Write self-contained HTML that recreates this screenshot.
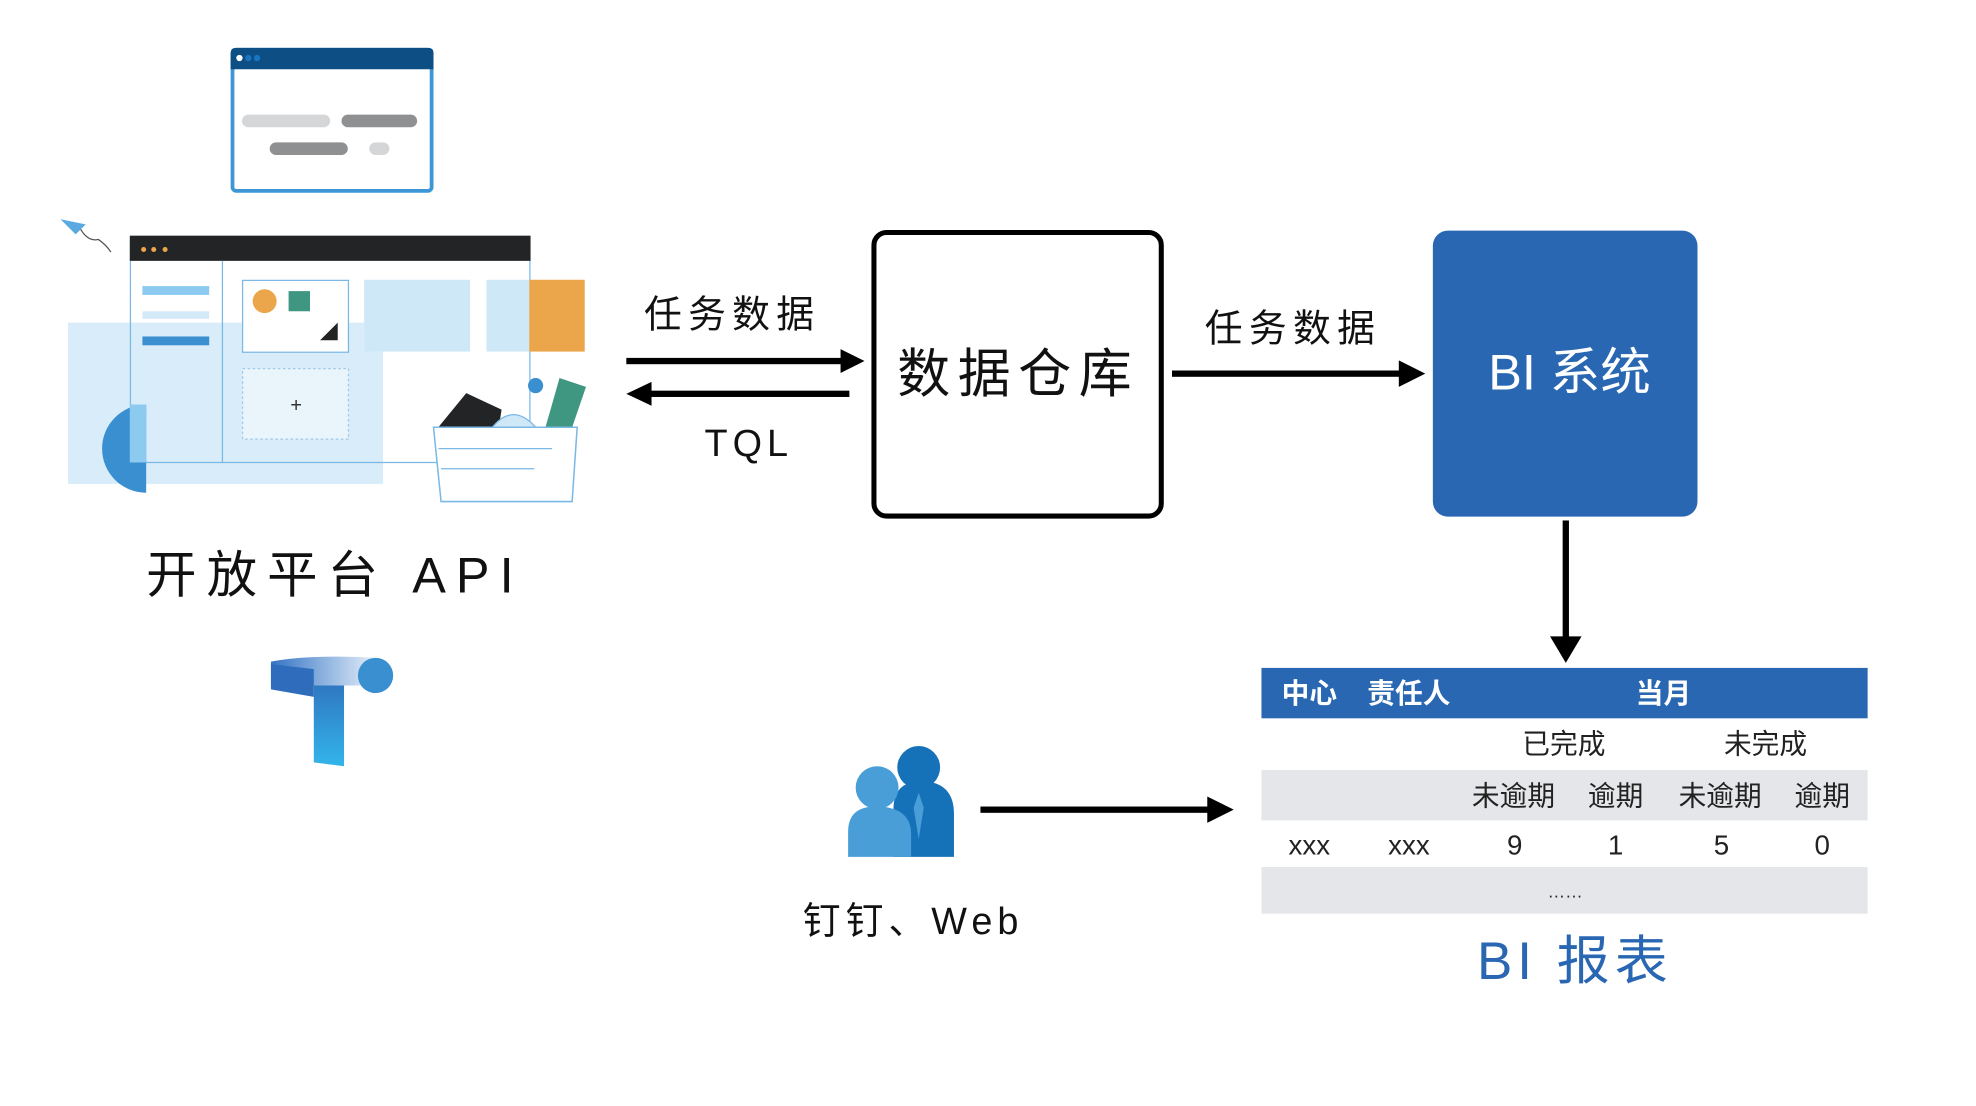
<!DOCTYPE html>
<html><head><meta charset="utf-8"><style>
html,body{margin:0;padding:0;background:#fff;overflow:hidden}
body{width:1976px;height:1106px}
#w{position:absolute;left:0;top:0;width:1568px;height:878px;transform:scale(1.2602);transform-origin:0 0;font-family:"Liberation Sans","Noto Sans CJK SC",sans-serif}
.a{position:absolute}
.t{position:absolute;white-space:nowrap;line-height:1;color:#111}
.tb{position:absolute;white-space:nowrap;line-height:1;font-size:22px;color:#222;transform:translateX(-50%)}
</style></head><body><div id="w">
<svg class="a" style="left:0;top:0" width="1551" height="868" viewBox="0 0 1551 868">
<rect x="184.5" y="39.5" width="158" height="112" rx="3" fill="#fff" stroke="#3d97d6" stroke-width="3"/>
<path d="M183 42 q0-4 4-4 h153 q4 0 4 4 v13 h-161z" fill="#0d4f85"/>
<circle cx="190" cy="46" r="2.5" fill="#fff"/><circle cx="197" cy="46" r="2.5" fill="#1a75c0"/><circle cx="204" cy="46" r="2.5" fill="#1a75c0"/>
<rect x="192" y="91" width="70" height="10" rx="5" fill="#d5d6d8"/>
<rect x="271" y="91" width="60" height="10" rx="5" fill="#8f9092"/>
<rect x="214" y="113" width="62" height="10" rx="5" fill="#8f9092"/>
<rect x="293" y="113" width="16" height="10" rx="5" fill="#d5d6d8"/>
<path d="M48 174 L68 178 L60 186 Z" fill="#5aa9e0"/><path d="M64 182 q6 10 14 8 q6 4 10 10" fill="none" stroke="#555" stroke-width="1"/>
<rect x="54" y="256" width="250" height="128" fill="#d9ecf9"/>
<rect x="103.5" y="190" width="317" height="177" fill="none" stroke="#7ab8e6" stroke-width="1"/>
<rect x="103" y="187" width="318" height="20" fill="#232426"/>
<circle cx="114" cy="198" r="2" fill="#eba64b"/><circle cx="122" cy="198" r="2" fill="#eba64b"/><circle cx="131" cy="198" r="2" fill="#eba64b"/>
<line x1="176.5" y1="207" x2="176.5" y2="367" stroke="#7ab8e6"/>
<path d="M116 321 A35 35 0 0 0 116 391 Z" fill="#3a8fd0"/>
<rect x="103" y="321" width="13" height="46" fill="#8ccaf0"/>
<rect x="113" y="227" width="53" height="7" fill="#8ccaf0"/>
<rect x="113" y="247" width="53" height="6" fill="#d4e9f7"/>
<rect x="113" y="267" width="53" height="7" fill="#3a8fd0"/>
<rect x="192.5" y="222.5" width="84" height="57" fill="#fff" stroke="#7ab8e6"/>
<circle cx="210" cy="239" r="9.5" fill="#eba64b"/>
<rect x="229" y="231" width="17" height="16" fill="#3f9782"/>
<path d="M254 270 L268 256 L268 270Z" fill="#222"/>
<rect x="192.5" y="292.5" width="84" height="56" fill="#eaf4fb" stroke="#9fcaea" stroke-dasharray="2 2"/>
<text x="235" y="327" font-size="16" text-anchor="middle" fill="#333">+</text>
<rect x="289" y="222" width="84" height="57" fill="#cfe8f7"/>
<rect x="386" y="222" width="34" height="57" fill="#cfe8f7"/>
<rect x="420" y="222" width="44" height="57" fill="#eba64b"/>
<path d="M347 340 L370 312 L398 325 L395 345Z" fill="#232426"/>
<path d="M432 342 L444 300 L465 307 L453 342Z" fill="#3f9782"/>
<path d="M390 340 q17 -22 36 0Z" fill="#cfe8f7" stroke="#7ab8e6"/>
<circle cx="425" cy="306" r="6" fill="#3a8fd0"/>
<path d="M344 339 H458 L454 398 H350Z" fill="#fff" stroke="#7ab8e6" stroke-width="1.2"/>
<line x1="348" y1="356" x2="438" y2="356" stroke="#7ab8e6"/>
<line x1="350" y1="372" x2="424" y2="372" stroke="#7ab8e6"/>
<defs><linearGradient id="g1" x1="0" y1="0" x2="1" y2="0"><stop offset="0" stop-color="#3474c4"/><stop offset="1" stop-color="#e8f1fa"/></linearGradient>
<linearGradient id="g2" x1="0" y1="0" x2="0" y2="1"><stop offset="0" stop-color="#2f78c2"/><stop offset="1" stop-color="#33b5ea"/></linearGradient></defs>
<path d="M215 525 q30 -6 85 -3 v22 h-85z" fill="url(#g1)"/>
<path d="M249 544 h24 v64 l-24 -3z" fill="url(#g2)"/>
<path d="M215 527 v20 l34 6 v-22z" fill="#2f6cbc"/>
<circle cx="298" cy="536" r="14" fill="#3a8fd0"/>
<rect x="497" y="284" width="172" height="5" fill="#000"/><path d="M667 277 L686 286.5 L667 296Z" fill="#000"/>
<rect x="515" y="310" width="159" height="5" fill="#000"/><path d="M517 303 L497 312.5 L517 322Z" fill="#000"/>
<rect x="693.5" y="184.5" width="228" height="225" rx="10" fill="#fff" stroke="#000" stroke-width="4"/>
<rect x="930" y="294" width="182" height="5" fill="#000"/><path d="M1110 286 L1131 296.5 L1110 307Z" fill="#000"/>
<rect x="1137" y="183" width="210" height="227" rx="12" fill="#2a67b3"/>
<rect x="1240" y="413" width="5" height="94" fill="#000"/><path d="M1230 505 L1242.5 526 L1255 505Z" fill="#000"/>
<rect x="778" y="640" width="182" height="5" fill="#000"/><path d="M958 632 L979 642.5 L958 653Z" fill="#000"/>
<circle cx="729" cy="609" r="17" fill="#1672b8"/>
<path d="M709 680 v-38 q0-22 22-22 q26 0 26 26 v34z" fill="#1672b8"/>
<path d="M729 629 l4 12 l-4 25 l-4 -25z" fill="#4a9ed8"/>
<circle cx="696" cy="625" r="17" fill="#4a9ed8"/>
<path d="M673 680 v-20 q0-20 22-20 q28 0 28 22 v18z" fill="#4a9ed8"/>
<rect x="1001" y="530" width="481" height="40" fill="#2a67b3"/>
<rect x="1001" y="611" width="481" height="40" fill="#e4e6e9"/>
<rect x="1001" y="688" width="481" height="37" fill="#e4e6e9"/>
</svg>
<div class="t" style="left:116px;top:437px;font-size:40px;letter-spacing:8px">开放平台 API</div>
<div class="t" style="left:511px;top:236px;font-size:30px;letter-spacing:5px">任务数据</div>
<div class="t" style="left:559px;top:338px;font-size:30px;letter-spacing:4px">TQL</div>
<div class="t" style="left:712px;top:276px;font-size:42px;letter-spacing:6px">数据仓库</div>
<div class="t" style="left:956px;top:247px;font-size:30px;letter-spacing:5px">任务数据</div>
<div class="t" style="left:1181px;top:276px;font-size:40px;color:#fff">BI 系统</div>
<div class="t" style="left:637px;top:717px;font-size:30px;letter-spacing:4px">钉钉、Web</div>
<div class="t" style="left:1172px;top:742px;font-size:42px;color:#2a67b3;letter-spacing:4px">BI 报表</div>
<div class="tb" style="left:1039px;top:540px;color:#fff;font-weight:bold">中心</div>
<div class="tb" style="left:1118px;top:540px;color:#fff;font-weight:bold">责任人</div>
<div class="tb" style="left:1320px;top:540px;color:#fff;font-weight:bold">当月</div>
<div class="tb" style="left:1241px;top:580px">已完成</div>
<div class="tb" style="left:1401px;top:580px">未完成</div>
<div class="tb" style="left:1201px;top:621px">未逾期</div>
<div class="tb" style="left:1282px;top:621px">逾期</div>
<div class="tb" style="left:1365px;top:621px">未逾期</div>
<div class="tb" style="left:1446px;top:621px">逾期</div>
<div class="tb" style="left:1039px;top:660px">xxx</div>
<div class="tb" style="left:1118px;top:660px">xxx</div>
<div class="tb" style="left:1202px;top:660px">9</div>
<div class="tb" style="left:1282px;top:660px">1</div>
<div class="tb" style="left:1366px;top:660px">5</div>
<div class="tb" style="left:1446px;top:660px">0</div>
<div class="tb" style="left:1242px;top:700px;font-size:14px">……</div>
</div></body></html>
